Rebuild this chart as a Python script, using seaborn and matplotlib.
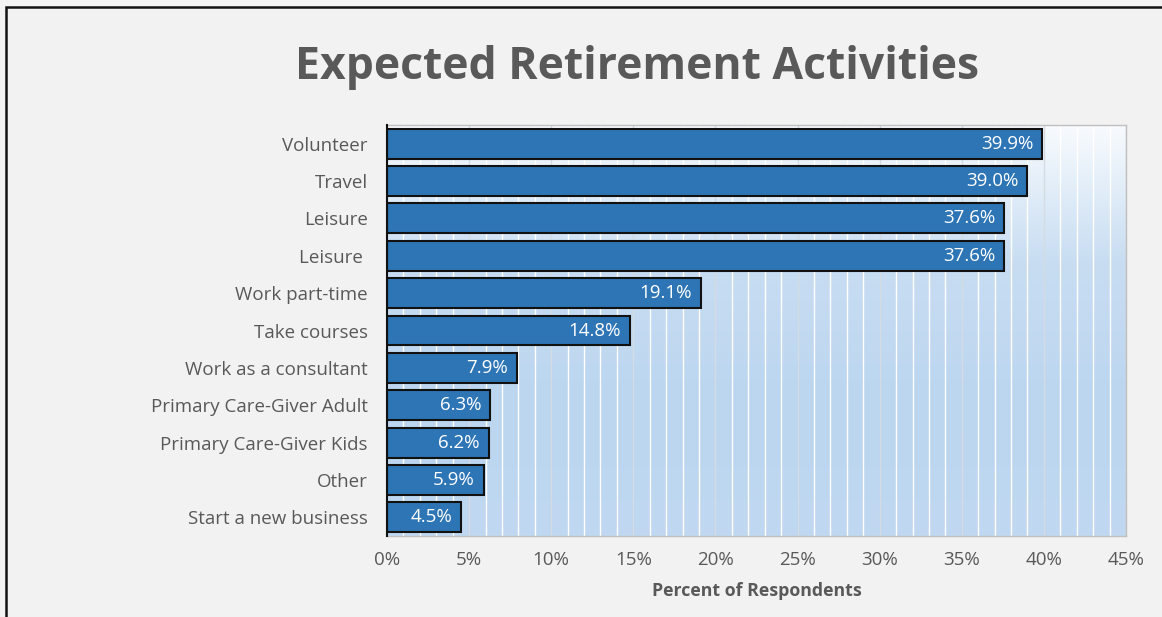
import matplotlib
matplotlib.use("Agg")
import matplotlib.pyplot as plt
import seaborn as sns
import numpy as np
import pandas as pd
from matplotlib.ticker import MultipleLocator, FuncFormatter
from matplotlib.patches import Rectangle
from matplotlib.colors import LinearSegmentedColormap

categories = ["Volunteer", "Travel", "Leisure", "Leisure ", "Work part-time", "Take courses",
              "Work as a consultant", "Primary Care-Giver Adult", "Primary Care-Giver Kids",
              "Other", "Start a new business"]
values = [39.9, 39.0, 37.6, 37.6, 19.1, 14.8, 7.9, 6.3, 6.2, 5.9, 4.5]
value_labels = ["39.9%", "39.0%", "37.6%", "37.6%", "19.1%", "14.8%", "7.9%", "6.3%", "6.2%", "5.9%", "4.5%"]
x_ticks = [0, 5, 10, 15, 20, 25, 30, 35, 40, 45]

sns.set_theme(style="white")
plt.rcParams['font.family'] = ['Open Sans', 'DejaVu Sans']

df = pd.DataFrame({"Activity": categories, "Percent": values})

fig = plt.figure(figsize=(11.62, 6.17), dpi=100, facecolor="#f2f2f2")
ax = fig.add_axes([387/1162, 1-536/617, (1126-387)/1162, (536-125)/617])

# gradient background
grad = np.linspace(0, 1, 256).reshape(-1, 1)
cmap = LinearSegmentedColormap.from_list("bg", ["#c0d8f0", "#bcd6f0", "#c8ddf2", "#f8fbfe"])
ax.imshow(grad, extent=[0, 1, 0, 1], transform=ax.transAxes, aspect="auto",
          cmap=cmap, origin="lower", zorder=0)

sns.barplot(data=df, x="Percent", y="Activity", orient="h", ax=ax,
            color="#2e75b6", saturation=1, width=0.8,
            edgecolor="#111111", linewidth=1.5, zorder=3)

ax.set_xlim(0, 45)
ax.xaxis.set_major_locator(MultipleLocator(5))
ax.xaxis.set_minor_locator(MultipleLocator(1))
ax.set_xticks(x_ticks)
ax.xaxis.set_major_formatter(FuncFormatter(lambda v, p: f"{int(v)}%"))
ax.grid(which="minor", axis="x", color="white", linewidth=1.0, zorder=1)
ax.grid(which="major", axis="x", color="#d3dbe3", linewidth=1.0, zorder=1)
ax.set_axisbelow(True)

ax.set_ylabel("")
ax.set_xlabel("Percent of Respondents", fontsize=12.8, fontweight="bold", color="#595959", labelpad=9)
ax.tick_params(axis="both", which="both", length=0, labelsize=13.5, labelcolor="#595959")
ax.tick_params(axis="y", pad=14)
ax.tick_params(axis="x", pad=11)

for s in ["top", "right", "bottom"]:
    ax.spines[s].set_color("#bfbfbf")
    ax.spines[s].set_linewidth(1.0)
ax.spines["left"].set_color("#111111")
ax.spines["left"].set_linewidth(1.5)
ax.spines["left"].set_zorder(4)

for i, (v, lab) in enumerate(zip(values, value_labels)):
    ax.annotate(lab, xy=(v, i), xytext=(-9, 0), textcoords="offset pixels",
                ha="right", va="center", color="white", fontsize=13.5, zorder=5)

fig.text(637/1162, 1-68/617, "Expected Retirement Activities", ha="center", va="center",
         fontsize=32, fontweight="bold", color="#595959")

# outer frame
fig.patches.append(Rectangle((6/1162, -0.1), 1.2, 1-7/617+0.1, transform=fig.transFigure,
                             fill=False, edgecolor="#111111", linewidth=1.8))

fig.savefig("out.png", dpi=100, facecolor=fig.get_facecolor())
